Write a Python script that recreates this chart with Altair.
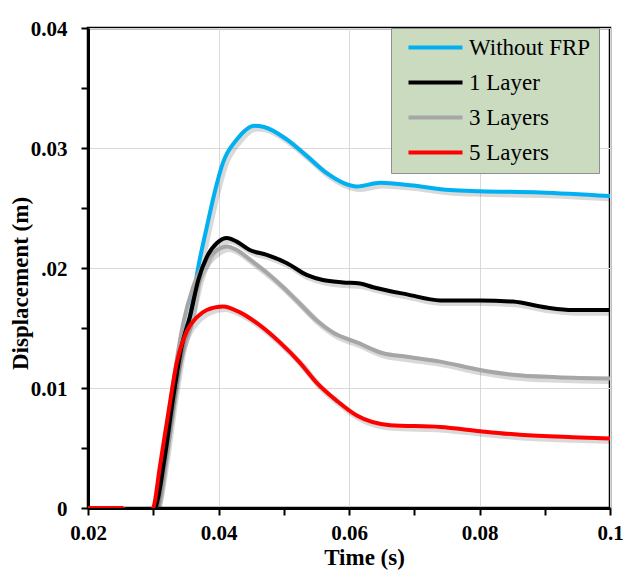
import altair as alt
import pandas as pd

series_names = ["Without FRP", "1 Layer", "3 Layers", "5 Layers"]
series_colors = ["#00b0f0", "#000000", "#a6a6a6", "#ff0000"]
draw_order = ["Without FRP", "3 Layers", "1 Layer", "5 Layers"]

t_without = [0.020, 0.025, 0.027, 0.029, 0.0301, 0.0315, 0.0329, 0.0343, 0.0356, 0.0369, 0.0382, 0.0395,
             0.0407, 0.0428, 0.0455, 0.0470, 0.0505, 0.0536, 0.0566, 0.0591, 0.0612, 0.0648, 0.0694,
             0.0755, 0.0801, 0.0893, 0.1000]
d_without = [0, 0, -0.0006, -0.0005, 0, 0.0044, 0.0094, 0.0140, 0.0159, 0.0201, 0.0234, 0.0265,
             0.0288, 0.0307, 0.03185, 0.03175, 0.0307, 0.0293, 0.0279, 0.0271, 0.0268, 0.0271, 0.0269,
             0.0265, 0.0264, 0.0263, 0.0260]

t_1layer = [0.020, 0.025, 0.027, 0.029, 0.0303, 0.0317, 0.0330, 0.0344, 0.0356, 0.0369, 0.0382, 0.0398,
            0.0413, 0.0428, 0.0448, 0.0474, 0.0505, 0.0536, 0.0560, 0.0591, 0.0617, 0.0637, 0.0689,
            0.0740, 0.0801, 0.0851, 0.0903, 0.0943, 0.1000]
d_1layer = [0, 0, -0.0006, -0.0005, 0, 0.0040, 0.0090, 0.0136, 0.0159, 0.0190, 0.0209, 0.0221,
            0.0225, 0.0222, 0.0215, 0.0211, 0.0204, 0.0194, 0.0190, 0.0188, 0.0187, 0.0184, 0.0178,
            0.0173, 0.0173, 0.0172, 0.0167, 0.0165, 0.0165]

t_3layers = [0.020, 0.025, 0.027, 0.029, 0.0303, 0.0315, 0.0329, 0.0346, 0.0361, 0.0382, 0.0398, 0.0413,
             0.0428, 0.0448, 0.0474, 0.0499, 0.0525, 0.0551, 0.0576, 0.0612, 0.0652, 0.0689, 0.0740,
             0.0801, 0.0851, 0.0919, 0.1000]
d_3layers = [0, 0, -0.0006, -0.0005, 0, 0.0040, 0.0098, 0.0154, 0.0184, 0.0207, 0.0215, 0.0218,
             0.0215, 0.0207, 0.0196, 0.0184, 0.0170, 0.0156, 0.0146, 0.0138, 0.0129, 0.0126, 0.0122,
             0.0115, 0.0111, 0.0109, 0.0108]

t_5layers = [0.020, 0.025, 0.027, 0.029, 0.0300, 0.0310, 0.0323, 0.0336, 0.0352, 0.0367, 0.0382, 0.0407,
             0.0433, 0.0459, 0.0494, 0.0525, 0.0551, 0.0582, 0.0612, 0.0663, 0.0740, 0.0801, 0.0862,
             0.0943, 0.1000]
d_5layers = [0, 0, -0.0006, -0.0005, 0, 0.0034, 0.0079, 0.0121, 0.0148, 0.0159, 0.0165, 0.0168,
             0.0163, 0.0154, 0.0138, 0.0121, 0.0104, 0.0089, 0.0077, 0.0069, 0.00675, 0.0064, 0.0061,
             0.0059, 0.0058]

x_tick_values = [0.02, 0.03, 0.04, 0.05, 0.06, 0.07, 0.08, 0.09, 0.1]
y_tick_values = [0, 0.005, 0.01, 0.015, 0.02, 0.025, 0.03, 0.035, 0.04]

series_data = {
    "Without FRP": (t_without, d_without),
    "1 Layer": (t_1layer, d_1layer),
    "3 Layers": (t_3layers, d_3layers),
    "5 Layers": (t_5layers, d_5layers),
}
rows = []
for name in draw_order:
    ts, ds = series_data[name]
    for t, d in zip(ts, ds):
        rows.append({"series": name, "t": t, "d": d})
df = pd.DataFrame(rows)

FONT = "Liberation Serif"

x_scale = alt.Scale(domain=[0.02, 0.1], nice=False, zero=False)
y_scale = alt.Scale(domain=[0, 0.04], nice=False, zero=False)

x_axis = alt.Axis(
    values=x_tick_values, title="Time (s)",
    labelExpr="round(datum.value*100) % 2 == 0 ? toString(round(datum.value*100)/100) : ''",
    gridOpacity={"condition": {"test": "round(datum.value*100) % 2 == 0", "value": 1}, "value": 0},
    labelFlush=False, labelOverlap=False,
    labelBaseline="alphabetic", labelPadding=24,
    titleX=276, titleY=56, titleBaseline="alphabetic", titleAlign="center", titleFontSize=23,
)
y_axis = alt.Axis(
    values=y_tick_values, title="Displacement (m)",
    labelExpr="round(datum.value*1000) % 10 == 0 ? (round(datum.value*1000) == 20 ? '.02' : toString(round(datum.value*100)/100)) : ''",
    gridOpacity={"condition": {"test": "round(datum.value*1000) % 10 == 0", "value": 1}, "value": 0},
    labelFlush=False, labelOverlap=False,
    labelPadding=14, labelOffset=1.5,
    titleX=-61, titleY=255, titleBaseline="alphabetic", titleAlign="center", titleAngle=270,
    titleFontSize=23,
)

color_scale = alt.Scale(domain=series_names, range=series_colors)
legend = alt.Legend(
    title=None, orient="none", legendX=303, legendY=0,
    symbolType="M-3,0H3", symbolSize=324, symbolStrokeWidth=4, symbolOffset=25,
    labelOffset=22, padding=8, rowPadding=11,
    fillColor="#cbdbc0", strokeColor="#8f8f8f",
    labelFont=FONT, labelFontSize=23, labelColor="black", labelFontWeight="normal",
)

base = alt.Chart(df)

shadow = base.transform_calculate(
    ts="datum.t + 0.00035", ds="datum.d - 0.00022"
).mark_line(strokeWidth=6, opacity=0.15, interpolate="monotone", clip=True).encode(
    x=alt.X("ts:Q", scale=x_scale, axis=x_axis),
    y=alt.Y("ds:Q", scale=y_scale, axis=y_axis),
    detail="series:N",
    color=alt.value("#000000"),
)

layers = [shadow]
for name in draw_order:
    layers.append(
        base.transform_filter(alt.datum.series == name)
        .mark_line(strokeWidth=4, interpolate="monotone", clip=True)
        .encode(
            x=alt.X("t:Q", scale=x_scale, axis=x_axis),
            y=alt.Y("d:Q", scale=y_scale, axis=y_axis),
            color=alt.Color("series:N", scale=color_scale, legend=legend),
        )
    )

chart = alt.layer(*layers).properties(
    width=522, height=480,
    autosize=alt.AutoSizeParams(type="none"),
    padding={"left": 88, "top": 28, "right": 16, "bottom": 67},
    background="white",
).configure_view(
    stroke="black", strokeWidth=2.5,
).configure_axis(
    labelFont=FONT, labelFontWeight="bold", labelFontSize=21, labelColor="black",
    titleFont=FONT, titleFontWeight="bold", titleFontSize=24, titleColor="black",
    domainColor="black", domainWidth=3,
    tickColor="black", tickWidth=2, tickSize=7,
    gridColor="#d9d9d9", gridWidth=1,
)

chart.save("out.html", embed_options={"renderer": "svg", "actions": False})
